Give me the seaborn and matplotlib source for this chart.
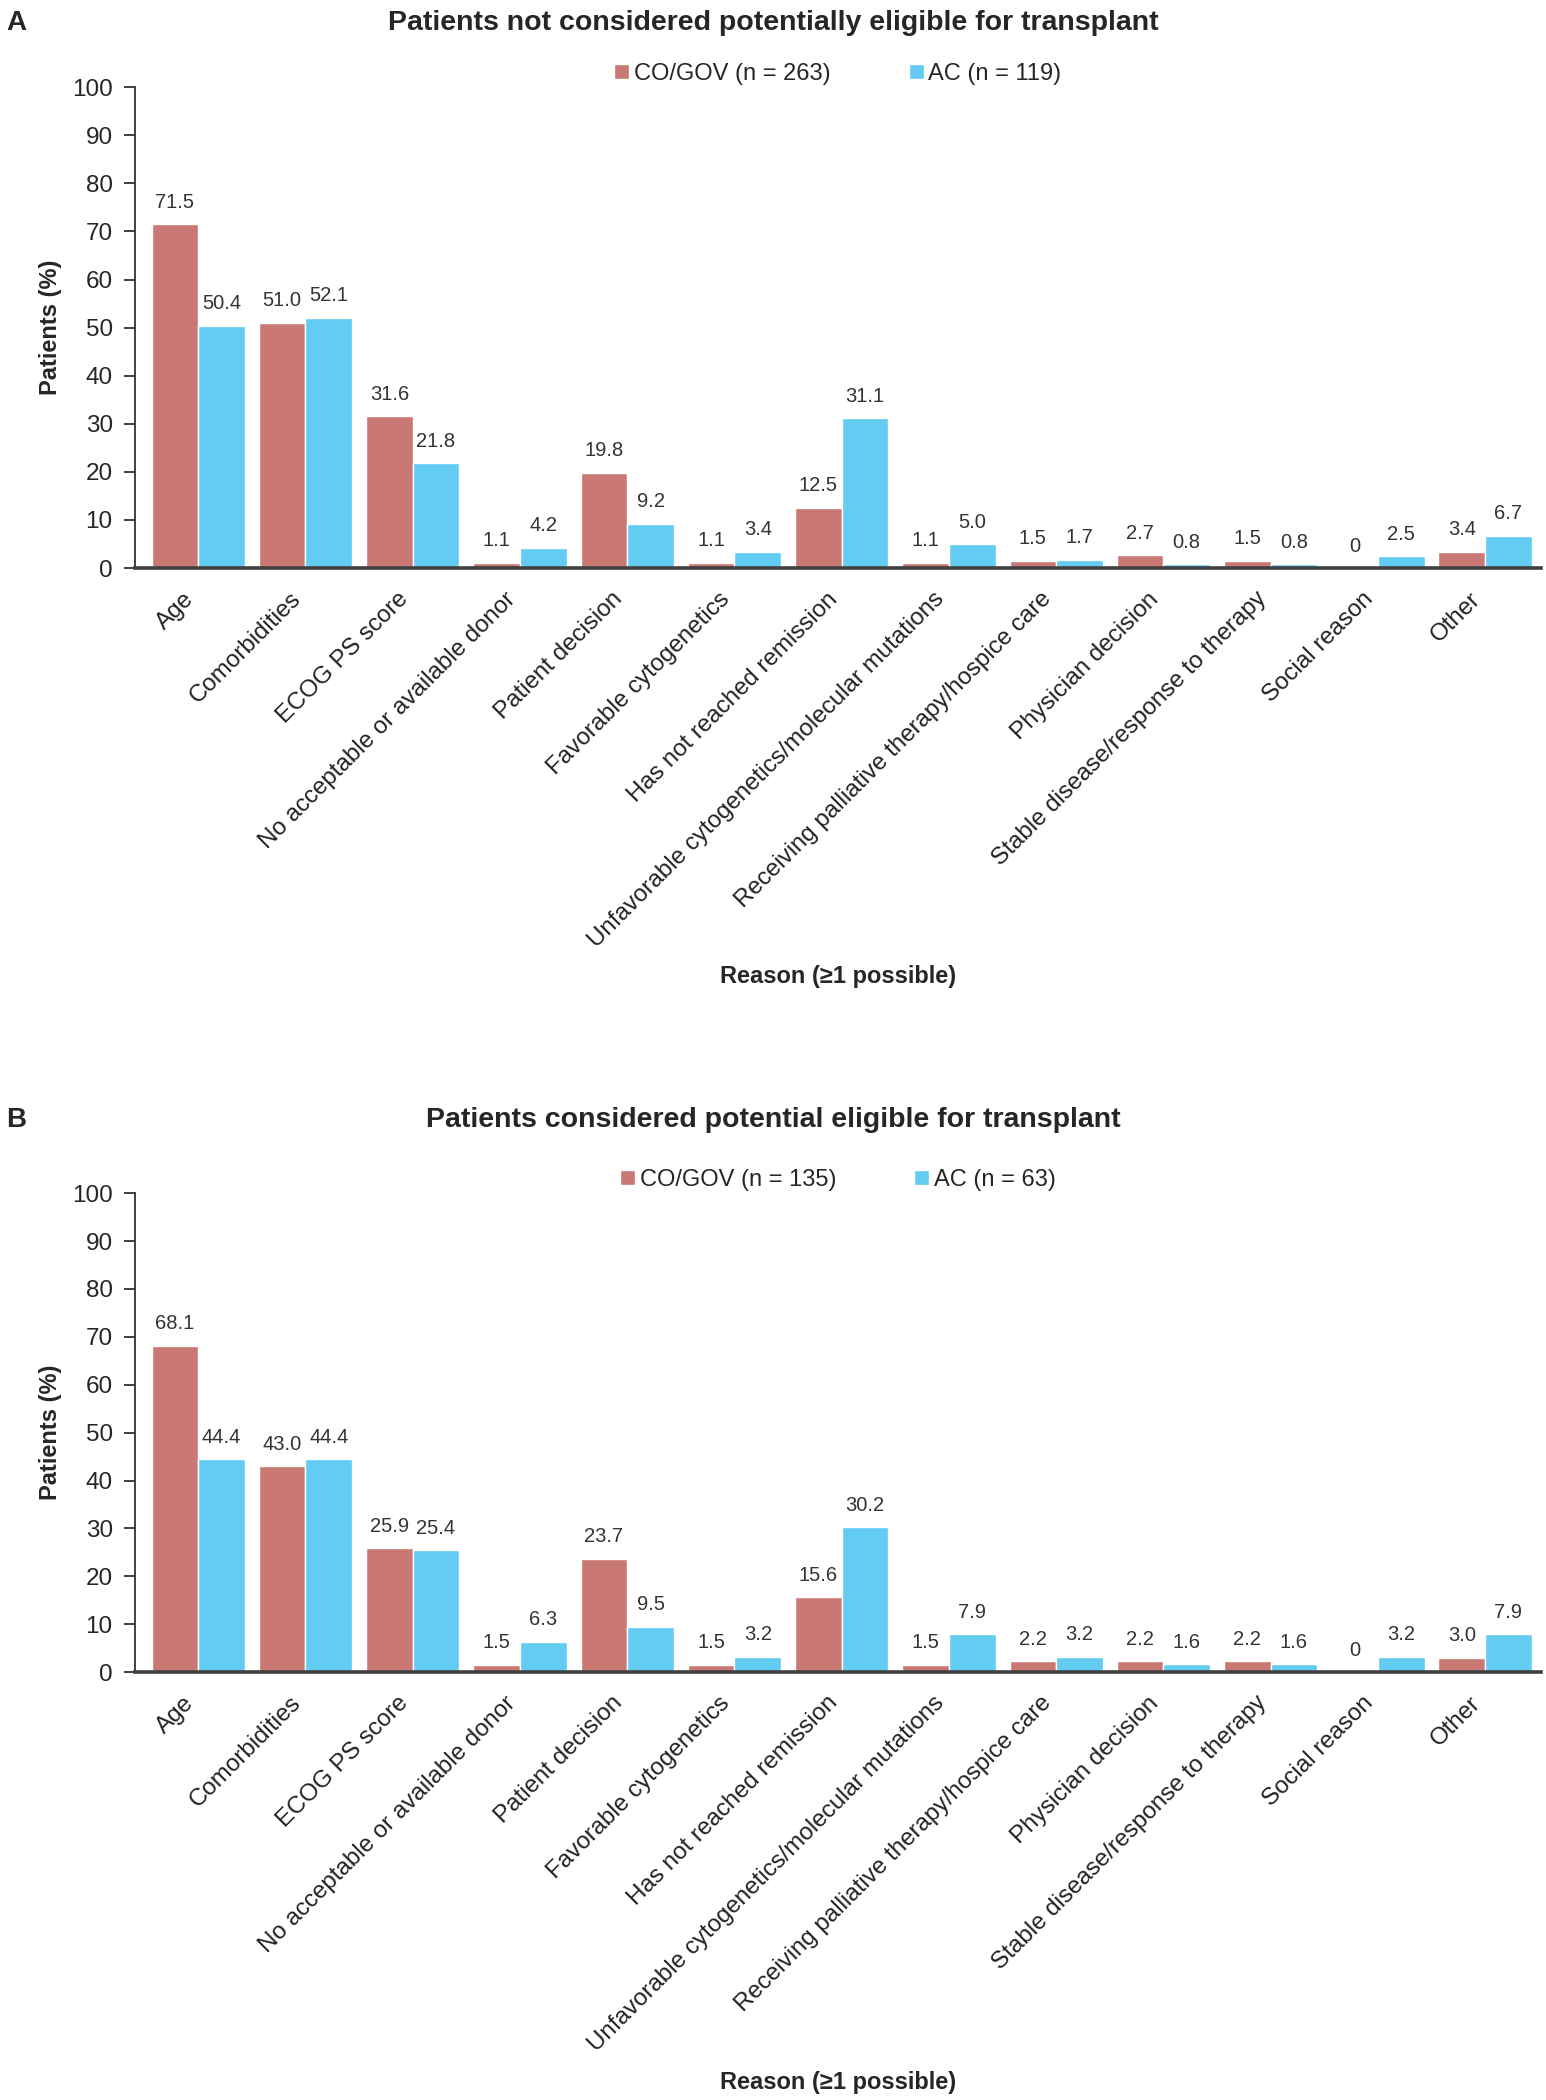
import pandas as pd
import seaborn as sns
import matplotlib.pyplot as plt

reasons = [
    'Age',
    'Comorbidities',
    'ECOG PS score',
    'No acceptable or available donor',
    'Patient decision',
    'Favorable cytogenetics',
    'Has not reached remission',
    'Unfavorable cytogenetics/molecular mutations',
    'Receiving palliative therapy/hospice care',
    'Physician decision',
    'Stable disease/response to therapy',
    'Social reason',
    'Other',
]

# panel A: not considered eligible
a_cogov = [71.5, 51.0, 31.6, 1.1, 19.8, 1.1, 12.5, 1.1, 1.5, 2.7, 1.5, 0, 3.4]
a_ac = [50.4, 52.1, 21.8, 4.2, 9.2, 3.4, 31.1, 5.0, 1.7, 0.8, 0.8, 2.5, 6.7]
a_groups = ['CO/GOV (n = 263)', 'AC (n = 119)']

# panel B: considered eligible
b_cogov = [68.1, 43.0, 25.9, 1.5, 23.7, 1.5, 15.6, 1.5, 2.2, 2.2, 2.2, 0, 3.0]
b_ac = [44.4, 44.4, 25.4, 6.3, 9.5, 3.2, 30.2, 7.9, 3.2, 1.6, 1.6, 3.2, 7.9]
b_groups = ['CO/GOV (n = 135)', 'AC (n = 63)']

titles = ['Patients not considered potentially eligible for transplant',
          'Patients considered potential eligible for transplant']
panel_letters = ['A', 'B']

red = '#C97873'
blue = '#62CCF2'

sns.set_style('white')
plt.rcParams['font.family'] = ['Liberation Sans', 'DejaVu Sans']


def make_df(v1, v2, groups):
    return pd.DataFrame({
        'reason': reasons * 2,
        'pct': v1 + v2,
        'group': [groups[0]] * len(reasons) + [groups[1]] * len(reasons),
    })


def fmt(v):
    return '0' if v == 0 else f'{v:.1f}'


fig = plt.figure(figsize=(15.46, 21), dpi=100)
ax_a = fig.add_axes([0.0873, 0.7295, 0.9094, 0.229])
ax_b = fig.add_axes([0.0873, 0.2038, 0.9094, 0.228])

panels = [
    (ax_a, make_df(a_cogov, a_ac, a_groups), a_groups, 0.989, -0.825),
    (ax_b, make_df(b_cogov, b_ac, b_groups), b_groups, 0.4667, -0.833),
]

for i, (ax, df, groups, ty, xly) in enumerate(panels):
    sns.barplot(
        data=df, x='reason', y='pct', hue='group',
        palette={groups[0]: red, groups[1]: blue},
        width=0.87, saturation=1, ax=ax,
    )
    for cont in ax.containers:
        ax.bar_label(cont, labels=[fmt(b.get_height()) for b in cont],
                     padding=9, fontsize=14.5, color='#333333')

    ax.set_ylim(0, 100)
    ax.set_yticks(range(0, 101, 10))
    ax.set_xlim(-0.59, 12.52)
    sns.despine(ax=ax)
    ax.spines['left'].set_color('#333333')
    ax.spines['left'].set_linewidth(1.3)
    ax.spines['bottom'].set_color('#404040')
    ax.spines['bottom'].set_linewidth(2.6)
    ax.tick_params(axis='y', left=True, length=8, width=1.3, color='#333333',
                   labelsize=17.5, pad=8)
    ax.tick_params(axis='x', bottom=False, labelsize=17.4, pad=22)
    plt.setp(ax.get_xticklabels(), rotation=45, ha='right', va='bottom',
             rotation_mode='anchor', color='#222222')

    ax.set_ylabel('Patients (%)', fontsize=17, fontweight='bold')
    ax.yaxis.set_label_coords(-0.052, 0.5)
    ax.set_xlabel('Reason (\u22651 possible)', fontsize=17, fontweight='bold')
    ax.xaxis.set_label_coords(0.5, xly)

    ax.legend(loc='center', bbox_to_anchor=(0.5, 1.028), ncol=2,
              frameon=False, fontsize=17, handlelength=0.64,
              handleheight=0.64, handletextpad=0.2, columnspacing=3.3)

    fig.text(0.5, ty, titles[i], ha='center', va='center',
             fontsize=20.5, fontweight='bold')
    fig.text(0.004, ty, panel_letters[i], ha='left', va='center',
             fontsize=20, fontweight='bold')

plt.savefig('out.png', dpi=100)
